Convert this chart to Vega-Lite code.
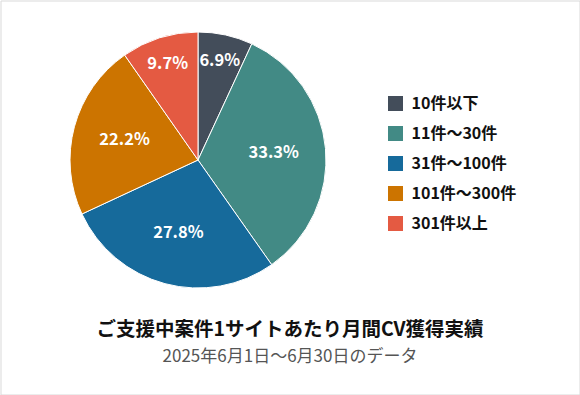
{
  "$schema": "https://vega.github.io/schema/vega-lite/v6.json",
  "width": 579,
  "height": 394,
  "padding": 0.5,
  "autosize": {"type": "none"},
  "background": "white",
  "view": {"stroke": "#d9d9d9", "strokeWidth": 1, "fill": "white"},
  "config": {
    "view": {"stroke": "#d9d9d9", "strokeWidth": 1},
    "font": "Noto Sans CJK JP"
  },
  "data": {
    "values": [
      {"category": "10件以下", "value": 6.9, "label": "6.9%", "order": 1},
      {"category": "11件～30件", "value": 33.3, "label": "33.3%", "order": 2},
      {"category": "31件～100件", "value": 27.8, "label": "27.8%", "order": 3},
      {"category": "101件～300件", "value": 22.2, "label": "22.2%", "order": 4},
      {"category": "301件以上", "value": 9.7, "label": "9.7%", "order": 5}
    ]
  },
  "title": {
    "text": "ご支援中案件1サイトあたり月間CV獲得実績",
    "subtitle": "2025年6月1日～6月30日のデータ",
    "orient": "bottom",
    "anchor": "middle",
    "offset": -74,
    "fontSize": 19.5,
    "fontWeight": "bold",
    "color": "#111111",
    "subtitleFontSize": 17,
    "subtitleColor": "#555555",
    "subtitlePadding": 9,
    "font": "Noto Sans CJK JP",
    "subtitleFont": "Noto Sans CJK JP"
  },
  "encoding": {
    "theta": {"field": "value", "type": "quantitative", "stack": true},
    "order": {"field": "order", "type": "quantitative"},
    "color": {
      "field": "category",
      "type": "nominal",
      "scale": {
        "domain": ["10件以下", "11件～30件", "31件～100件", "101件～300件", "301件以上"],
        "range": ["#434d5a", "#428a85", "#166a9b", "#cc7400", "#e45a42"]
      },
      "legend": {
        "orient": "none",
        "legendX": 387,
        "legendY": 95,
        "title": null,
        "padding": 0,
        "symbolType": "square",
        "symbolSize": 225,
        "symbolStrokeWidth": 0,
        "labelFontSize": 16,
        "labelFontWeight": "bold",
        "labelColor": "#111111",
        "labelFont": "Noto Sans CJK JP",
        "labelOffset": 8,
        "rowPadding": 14
      }
    }
  },
  "layer": [
    {
      "mark": {"type": "arc", "outerRadius": 128, "stroke": "white", "strokeWidth": 1, "xOffset": -92, "yOffset": -37.5}
    },
    {
      "mark": {"type": "text", "radius": 76, "xOffset": -92, "yOffset": -37.5, "fontSize": 16.5, "fontWeight": "bold", "font": "Noto Sans CJK JP"},
      "encoding": {
        "text": {"condition": {"test": "datum.value < 10", "value": ""}, "field": "label"},
        "color": {"value": "white"}
      }
    },
    {
      "mark": {"type": "text", "radius": 101, "xOffset": -92, "yOffset": -37.5, "fontSize": 16.5, "fontWeight": "bold", "font": "Noto Sans CJK JP"},
      "encoding": {
        "text": {"condition": {"test": "datum.value >= 10", "value": ""}, "field": "label"},
        "color": {"value": "white"}
      }
    }
  ]
}
